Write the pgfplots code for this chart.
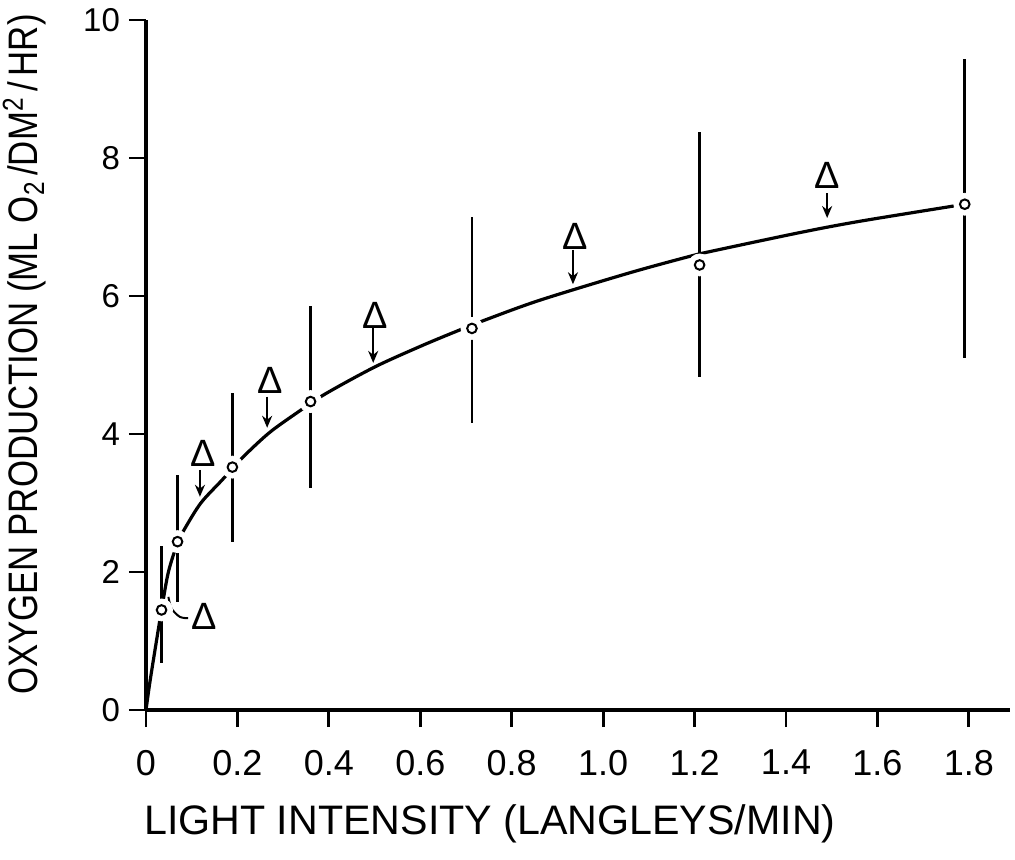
\documentclass[border=0pt]{standalone}
\usepackage{fontspec}
\setmainfont{Liberation Sans}
\usepackage{pgfplots}
\usepackage{pgfplotstable}
\pgfplotsset{compat=1.18}
\usetikzlibrary{arrows.meta}

% means with asymmetric error bars
\pgfplotstableread{
x     y     ep    em
0.034 1.45  0.92  0.77
0.069 2.44  0.97  0.87
0.189 3.52  1.07  1.09
0.360 4.47  1.38  1.25
0.713 5.53  1.62  1.37
1.211 6.45  1.92  1.62
1.791 7.33  2.10  2.23
}\means

% fitted curve
\pgfplotstableread{
x     y
0     0
0.008 0.38
0.018 0.80
0.034 1.45
0.049 2.00
0.069 2.42
0.085 2.63
0.120 3.00
0.166 3.33
0.213 3.67
0.270 4.02
0.333 4.32
0.392 4.58
0.500 4.97
0.600 5.27
0.676 5.48
0.745 5.66
0.862 5.94
1.055 6.33
1.187 6.57
1.238 6.65
1.431 6.92
1.559 7.08
1.763 7.30
1.791 7.33
}\fit

\begin{document}
\begin{tikzpicture}
\begin{axis}[
    scale only axis, width=432pt, height=345pt,
    xmin=0, xmax=1.89, ymin=0, ymax=10,
    axis x line=bottom, axis y line=left,
    axis line style={-, line width=1.6pt},
    tick align=outside, major tick length=8.5pt,
    tick style={line width=1.4pt, black},
    xtick={0,0.2,0.4,0.6,0.8,1.0,1.2,1.4,1.6,1.8},
    xticklabels={0,0.2,0.4,0.6,0.8,1.0,1.2,1.4,1.6,1.8},
    ytick={0,2,4,6,8,10},
    /pgf/number format/assume math mode=true,
    xticklabel style={font=\fontsize{18}{22}\selectfont},
    yticklabel style={font=\fontsize{16.5}{20}\selectfont},
    xticklabel shift=8pt, yticklabel shift=1pt,
    xlabel={LIGHT INTENSITY (LANGLEYS/MIN)},
    xlabel style={font=\fontsize{20.6}{24}\selectfont, at={(axis description cs:0.398,-0.181)}, anchor=base},
    ylabel={\scalebox{0.845}[1]{OXYGEN PRODUCTION (ML O\textsubscript{2}\,/DM\textsuperscript{2}\,/\,HR)}},
    ylabel style={font=\fontsize{20.6}{24}\selectfont, at={(axis description cs:-0.125,0.515)}, anchor=base},
    clip=false,
]
\addplot[line width=1.6pt, smooth, no marks] table {\fit};
\addplot[draw=none, mark=none, error bars/.cd, y dir=both, y explicit, error mark=none,
    error bar style={line width=1.3pt}]
    table[x=x, y=y, y error plus=ep, y error minus=em] {\means};
% white halo that opens gaps round each circle
\addplot[white, only marks, mark=*, mark size=5.5pt, mark options={fill=white, draw=white}] table[x=x, y=y] {\means};
\addplot[only marks, mark=o, mark size=2.4pt, mark options={line width=1pt, black}] table[x=x, y=y] {\means};

% delta markers with arrows
\addplot[draw=none, mark=none, nodes near coords={Δ},
    every node near coord/.append style={anchor=center, inner sep=0pt, font=\fontsize{19}{22}\selectfont}]
    coordinates {(0.125,3.72) (0.271,4.78) (0.501,5.72) (0.939,6.86) (1.490,7.75) (0.127,1.36)};
\addplot[line width=1pt, -{Stealth[length=6pt,width=5pt]}] coordinates {(0.118,3.48) (0.118,3.09)};
\addplot[line width=1pt, -{Stealth[length=6pt,width=5pt]}] coordinates {(0.265,4.54) (0.265,4.09)};
\addplot[line width=1pt, -{Stealth[length=6pt,width=5pt]}] coordinates {(0.497,5.55) (0.497,5.03)};
\addplot[line width=1pt, -{Stealth[length=6pt,width=5pt]}] coordinates {(0.934,6.67) (0.934,6.17)};
\addplot[line width=1pt, -{Stealth[length=6pt,width=5pt]}] coordinates {(1.490,7.49) (1.490,7.13)};
\addplot[line width=1pt, smooth] coordinates {(0.049,1.64) (0.056,1.47) (0.074,1.35) (0.092,1.33)};
\end{axis}
\pgfresetboundingbox
\useasboundingbox (-73pt,-75pt) rectangle (434.5pt,355pt);
\end{tikzpicture}
\end{document}
